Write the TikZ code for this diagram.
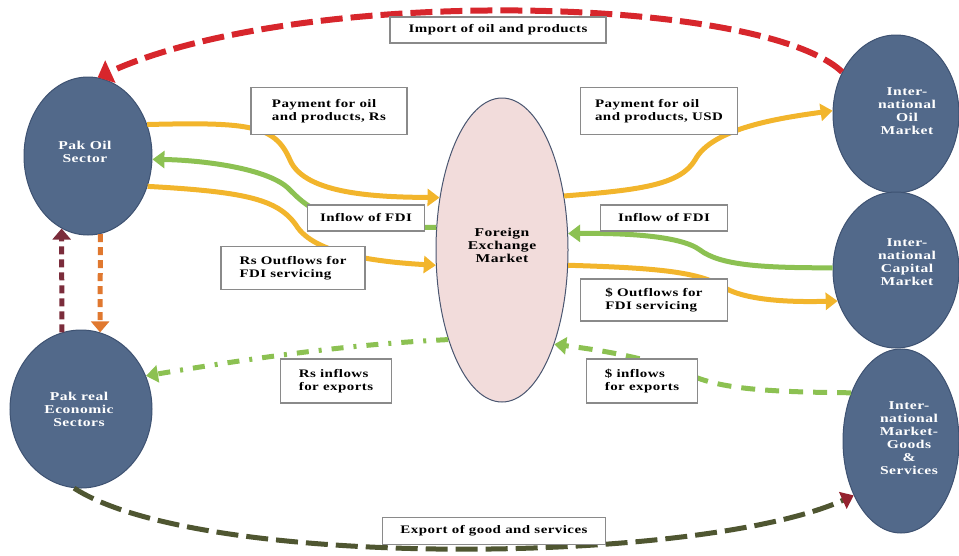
\documentclass[tikz,border=0pt]{standalone}
\usepackage{fontspec}
\setmainfont{Liberation Serif}[FakeStretch=1.3,LetterSpace=4]
\usetikzlibrary{shapes.geometric,arrows.meta}
\definecolor{nodeblue}{HTML}{52698A}
\definecolor{nodeedge}{HTML}{3E5272}
\definecolor{fxpink}{HTML}{F2DCDB}
\definecolor{fxedge}{HTML}{4A5670}
\definecolor{gold}{HTML}{F2B52C}
\definecolor{lgreen}{HTML}{8CC152}
\definecolor{dred}{HTML}{D7262C}
\definecolor{maroon}{HTML}{7B2C3B}
\definecolor{orng}{HTML}{E0782F}
\definecolor{olive}{HTML}{4F5631}
\definecolor{boxgray}{HTML}{8A8A8A}
\begin{document}
\begin{tikzpicture}[x=1pt,y=-1pt,
  market/.style={ellipse,draw=nodeedge,line width=1pt,fill=nodeblue,inner sep=0pt},
  market text/.style={text=white,font=\fontsize{12}{13}\selectfont\bfseries,align=center},
  label box/.style={draw=boxgray,line width=1.2pt,fill=white,inner sep=0pt,
    font=\fontsize{11.5}{12.5}\selectfont\bfseries,align=left},
  goldflow/.style={draw=gold,line width=5pt,-{Triangle[length=12pt,width=17pt]}},
  greenflow/.style={draw=lgreen,line width=5pt,-{Triangle[length=12pt,width=17pt]}},
]
\useasboundingbox (0,0) rectangle (959,555);
% ellipses
\node[market,minimum width=128pt,minimum height=158pt] (oil) at (88,156) {};
\node[market text] (oiltxt) at (85,152) {Pak Oil\\Sector};
\node[market,minimum width=142pt,minimum height=158pt] (preal) at (81,409) {};
\node[market text] (prealtxt) at (79,409) {Pak real\\Economic\\Sectors};
\node[ellipse,draw=fxedge,line width=1pt,fill=fxpink,minimum width=132pt,minimum height=304pt,inner sep=0pt] (fx) at (502,250) {};
\node[market text,text=black] (fxtxt) at (502,245) {Foreign\\Exchange\\Market};
\node[market,minimum width=126pt,minimum height=158pt] (intoil) at (896,114) {};
\node[market text] (intoiltxt) at (907,111) {Inter-\\national\\Oil\\Market};
\node[market,minimum width=126pt,minimum height=156pt] (cap) at (896,270) {};
\node[market text] (captxt) at (907,262) {Inter-\\national\\Capital\\Market};
\node[market,minimum width=116pt,minimum height=184pt] (goods) at (901,441) {};
\node[market text] (goodstxt) at (909,438) {Inter-\\national\\Market-\\Goods\\\&\\Services};

% dashed long arrows
\draw[dred,line width=6pt,dash pattern=on 22pt off 8pt,-{Triangle[length=14pt,width=24pt]}]
  (intoil.142) .. controls (760,-5) and (300,-15) .. (oil.83);
\draw[olive,line width=5pt,dash pattern=on 22pt off 8pt,-{Triangle[length=12pt,width=18pt,fill=maroon!80!red,color=maroon!80!red]}]
  (preal.-95) .. controls (200,570) and (700,565) .. (goods.229);
\draw[maroon,line width=5pt,dash pattern=on 8pt off 5pt,-{Triangle[length=11pt,width=18pt]}]
  (preal.104) -- (oil.-110);
\draw[orng,line width=5pt,dash pattern=on 8pt off 5pt,-{Triangle[length=11pt,width=18pt]}]
  (oil.-81) -- (preal.76);

% gold flows
\draw[goldflow] (oil.28) .. controls (250,122) and (275,125) .. (290,160)
  .. controls (305,195) and (380,197) .. (fx.140);
\draw[goldflow] (oil.-27) .. controls (250,192) and (280,200) .. (298,228)
  .. controls (318,255) and (380,262) .. (fx.193);
\draw[goldflow] (fx.41) .. controls (640,190) and (680,185) .. (695,160)
  .. controls (712,128) and (780,118) .. (intoil.177);
\draw[goldflow] (fx.-13) .. controls (660,268) and (700,272) .. (725,288)
  .. controls (750,302) and (800,302) .. (cap.208);
% green flows
\draw[greenflow] (fx.161) .. controls (330,228) and (310,210) .. (290,190)
  .. controls (270,168) and (200,160) .. (oil.-3);
\draw[greenflow] (cap.178) .. controls (760,268) and (720,265) .. (700,250)
  .. controls (680,235) and (620,233) .. (fx.14);
\draw[lgreen,line width=5pt,dash pattern=on 14pt off 10pt,-{Triangle[length=12pt,width=17pt]}]
  (goods.136) .. controls (760,392) and (720,388) .. (690,375)
  .. controls (650,358) and (600,350) .. (fx.-61);
\draw[lgreen,line width=5pt,dash pattern=on 12pt off 10pt on 3pt off 10pt,-{Triangle[length=12pt,width=17pt]}]
  (fx.239) .. controls (380,343) and (300,350) .. (preal.27.5);

% label boxes
\node[label box,minimum width=216pt,minimum height=26pt] (bimport) at (498,30) {Import of oil and products};
\node[label box,minimum width=156pt,minimum height=47pt] (bpayrs) at (329,111) {Payment for oil\\and products, Rs};
\node[label box,minimum width=117pt,minimum height=26pt] (bfdil) at (366,218) {Inflow of FDI};
\node[label box,minimum width=144pt,minimum height=43pt] (boutrs) at (293,268) {Rs Outflows for\\FDI servicing};
\node[label box,minimum width=157pt,minimum height=47pt] (bpayusd) at (659,111) {Payment for oil\\and products, USD};
\node[label box,minimum width=127pt,minimum height=26pt] (bfdir) at (664,218) {Inflow of FDI};
\node[label box,minimum width=147pt,minimum height=42pt] (boutusd) at (654,300) {\$ Outflows for\\FDI servicing};
\node[label box,minimum width=111pt,minimum height=44pt] (binrs) at (336,381) {Rs inflows\\for exports};
\node[label box,minimum width=111pt,minimum height=44pt] (binusd) at (642,381) {\$ inflows\\for exports};
\node[label box,minimum width=223pt,minimum height=27pt] (bexport) at (494,531) {Export of good and services};
\end{tikzpicture}
\end{document}
